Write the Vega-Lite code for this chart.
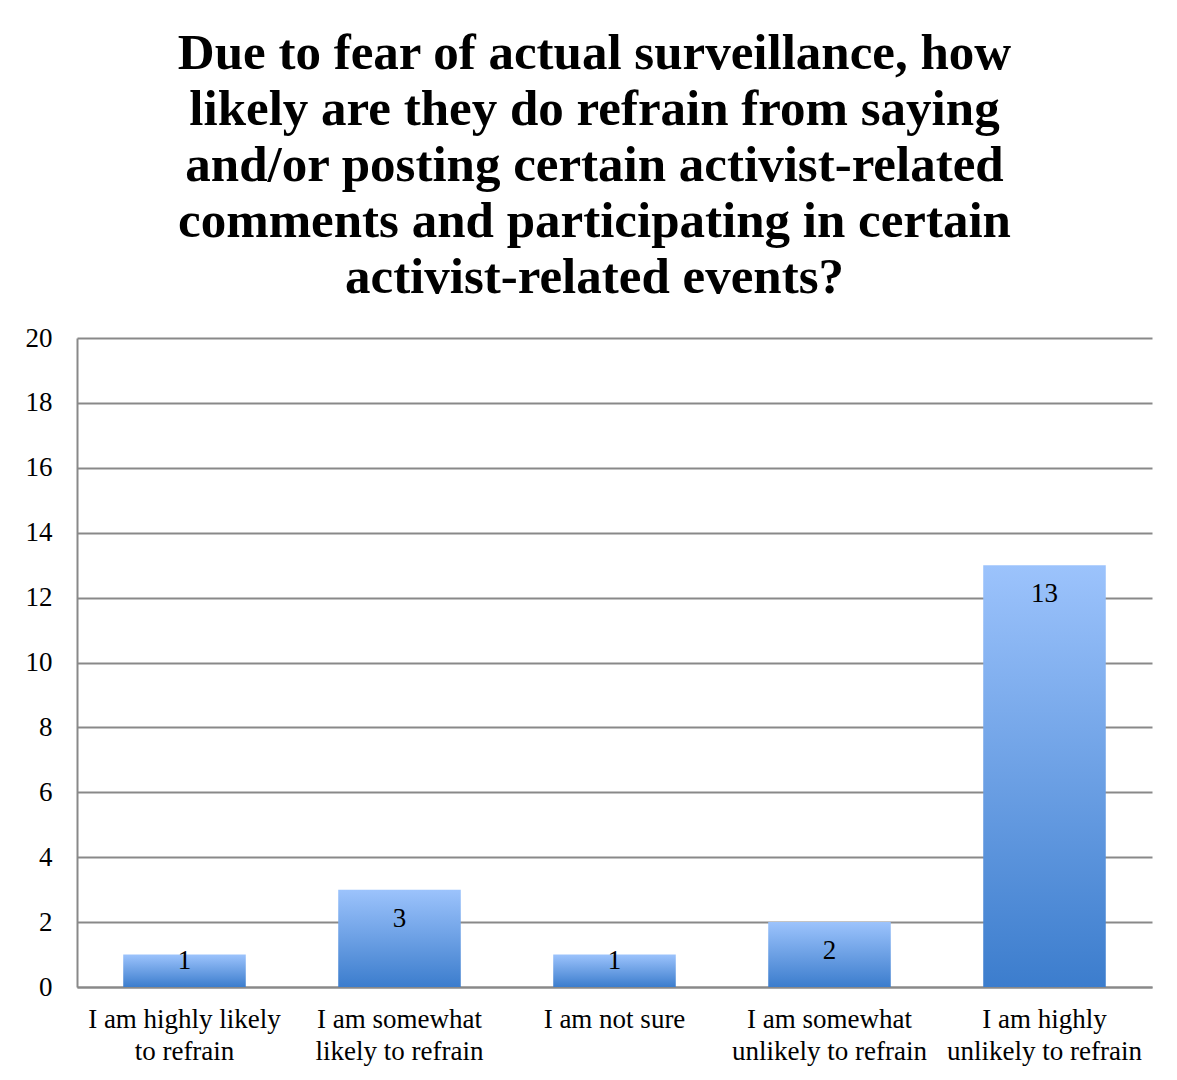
{
  "$schema": "https://vega.github.io/schema/vega-lite/v6.json",
  "autosize": {"type": "none"},
  "width": 1075,
  "height": 649,
  "padding": {"left": 77, "top": 338, "right": 25, "bottom": 93},
  "background": "#ffffff",
  "title": {
    "text": ["Due to fear of actual surveillance, how", "likely are they do refrain from saying", "and/or posting certain activist-related", "comments and participating in certain", "activist-related events?"],
    "font": "Liberation Serif",
    "fontSize": 51,
    "fontWeight": "bold",
    "color": "#000000",
    "lineHeight": 56,
    "anchor": "middle",
    "frame": "bounds",
    "offset": 20,
    "dx": 6
  },
  "data": {
    "values": [
      {"response": "I am highly likely\nto refrain", "count": 1},
      {"response": "I am somewhat\nlikely to refrain", "count": 3},
      {"response": "I am not sure", "count": 1},
      {"response": "I am somewhat\nunlikely to refrain", "count": 2},
      {"response": "I am highly\nunlikely to refrain", "count": 13}
    ]
  },
  "encoding": {
    "x": {
      "field": "response",
      "type": "nominal",
      "sort": null,
      "scale": {"paddingInner": 0.43, "paddingOuter": 0.215},
      "axis": {
        "title": null,
        "labelAngle": 0,
        "labelExpr": "split(datum.label, '\\n')",
        "labelFont": "Liberation Serif",
        "labelFontSize": 27,
        "labelColor": "#000000",
        "labelLineHeight": 32,
        "labelBaseline": "top",
        "labelPadding": 19,
        "labelLimit": 300,
        "ticks": false,
        "domain": true,
        "domainColor": "#898989",
        "domainWidth": 2
      }
    },
    "y": {
      "field": "count",
      "type": "quantitative",
      "scale": {"domain": [0, 20], "nice": false},
      "axis": {
        "title": null,
        "values": [0, 2, 4, 6, 8, 10, 12, 14, 16, 18, 20],
        "labelFont": "Liberation Serif",
        "labelFontSize": 27,
        "labelColor": "#000000",
        "labelPadding": 25,
        "ticks": false,
        "domain": true,
        "domainColor": "#898989",
        "domainWidth": 2,
        "grid": true,
        "gridColor": "#898989",
        "gridWidth": 2
      }
    }
  },
  "layer": [
    {
      "mark": {
        "type": "bar",
        "color": {
          "gradient": "linear",
          "x1": 0, "y1": 0, "x2": 0, "y2": 1,
          "stops": [
            {"offset": 0, "color": "#9cc3fc"},
            {"offset": 1, "color": "#3c7dcd"}
          ]
        }
      }
    },
    {
      "transform": [{"filter": "datum.count > 1"}],
      "mark": {"type": "text", "font": "Liberation Serif", "fontSize": 27, "color": "#000000", "baseline": "middle", "dy": 29},
      "encoding": {"text": {"field": "count", "type": "quantitative"}}
    },
    {
      "transform": [{"filter": "datum.count <= 1"}],
      "mark": {"type": "text", "font": "Liberation Serif", "fontSize": 27, "color": "#000000", "baseline": "middle", "dy": 6},
      "encoding": {"text": {"field": "count", "type": "quantitative"}}
    }
  ],
  "config": {"view": {"stroke": null}}
}
